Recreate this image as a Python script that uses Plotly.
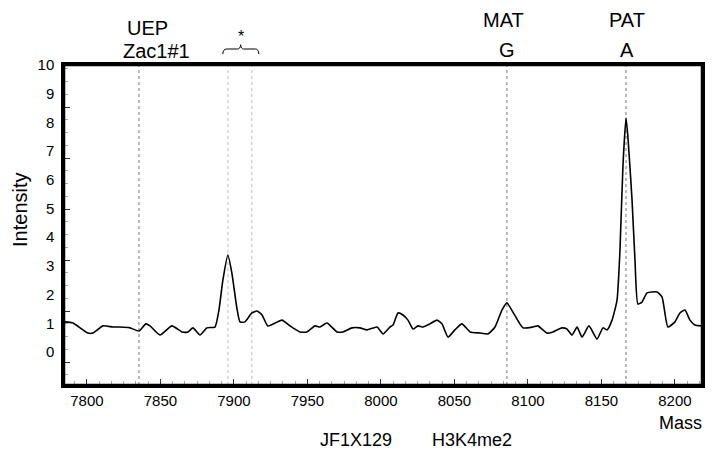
import plotly.graph_objects as go

# ---- data ----
mass = [7785.0, 7790.5, 7800.7, 7804.1, 7810.9, 7817.7, 7822.4, 7829.3, 7835.4, 7840.1,
        7842.9, 7849.7, 7857.8, 7864.6, 7868.7, 7872.1, 7876.9, 7881.6, 7887.1, 7889.8,
        7892.5, 7895.9, 7898.6, 7902.0, 7904.1, 7907.5, 7912.2, 7915.7, 7919.1, 7923.1,
        7932.7, 7938.1, 7944.9, 7949.7, 7955.1, 7958.5, 7963.3, 7970.1, 7974.2, 7980.3,
        7985.7, 7990.5, 7997.3, 8001.4, 8006.1, 8008.2, 8011.6, 8015.0, 8018.4, 8021.8,
        8025.2, 8028.6, 8033.3, 8038.1, 8041.5, 8045.6, 8050.3, 8055.1, 8060.6, 8067.4,
        8072.8, 8077.6, 8082.3, 8085.7, 8089.8, 8096.6, 8103.4, 8106.8, 8112.9, 8117.0,
        8123.1, 8126.5, 8130.0, 8133.4, 8136.8, 8141.5, 8147.0, 8151.0, 8153.8, 8157.2,
        8160.6, 8162.6, 8164.6, 8166.7, 8168.0, 8170.8, 8172.8, 8174.8, 8177.6, 8181.0,
        8187.8, 8191.2, 8195.2, 8200.0, 8203.4, 8206.8, 8210.2, 8213.6, 8217.7]
intensity = [1.05, 1.01, 0.66, 0.66, 0.91, 0.87, 0.87, 0.84, 0.73, 0.98,
             0.91, 0.59, 0.91, 0.70, 0.70, 0.84, 0.59, 0.84, 0.87, 1.46,
             2.51, 3.38, 2.75, 1.53, 1.05, 1.05, 1.36, 1.43, 1.29, 0.91,
             1.11, 0.91, 0.70, 0.70, 0.91, 0.87, 1.01, 0.70, 0.70, 0.84,
             0.84, 0.77, 0.87, 0.63, 0.87, 0.94, 1.36, 1.29, 1.11, 0.80,
             0.91, 0.87, 0.98, 1.11, 0.98, 0.52, 0.77, 0.98, 0.70, 0.66,
             0.63, 0.87, 1.46, 1.71, 1.39, 0.84, 0.87, 0.91, 0.66, 0.70,
             0.84, 0.80, 0.59, 0.87, 0.52, 0.91, 0.45, 0.84, 0.77, 1.11,
             1.81, 3.55, 6.45, 8.15, 7.49, 5.30, 3.21, 1.67, 1.74, 2.06,
             2.09, 1.92, 0.87, 1.05, 1.36, 1.46, 1.11, 0.94, 0.91]

marker_mass = [7835.4, 8085.7, 8166.7]      # UEP, MAT, PAT
star_mass = [7895.9, 7912.2]                # asterisk peaks
x_tick_vals = [7800, 7850, 7900, 7950, 8000, 8050, 8100, 8150, 8200]
y_tick_vals = [0, 1, 2, 3, 4, 5, 6, 7, 8, 9, 10]
y_tick_text = [str(v) for v in y_tick_vals]

FONT = "Liberation Sans, Arial, sans-serif"

fig = go.Figure()
fig.add_trace(go.Scatter(x=mass, y=intensity, mode="lines",
                         line=dict(color="black", width=1.6, shape="spline", smoothing=0.5),
                         hoverinfo="skip", showlegend=False))
# dummy trace to make the tick-mark overlay axis render
fig.add_trace(go.Scatter(x=[mass[0]], y=[intensity[0]], yaxis="y2", mode="markers",
                         marker=dict(opacity=0), hoverinfo="skip", showlegend=False))

for m in marker_mass:
    fig.add_shape(type="line", xref="x", yref="paper", x0=m, x1=m, y0=0, y1=1,
                  line=dict(color="#777", width=1, dash="dot"), layer="below")
for m in star_mass:
    fig.add_shape(type="line", xref="x", yref="paper", x0=m, x1=m, y0=0, y1=1,
                  line=dict(color="#bbb", width=1, dash="dot"), layer="below")

# frame
fig.add_shape(type="rect", xref="paper", yref="paper", x0=0, x1=1, y0=0, y1=1,
              line=dict(color="black", width=2.5), layer="above")

# brace over the asterisk peaks
b0, b1 = star_mass[0] - 3.5, star_mass[1] + 4.8
bm = (star_mass[0] + star_mass[1]) / 2 + 0.5
path = (f"M {b0},1.034 Q {b0+0.3},1.05 {b0+2.5},1.05 L {bm-2},1.05 "
        f"Q {bm-0.3},1.05 {bm},1.063 Q {bm+0.3},1.05 {bm+2},1.05 "
        f"L {b1-2.5},1.05 Q {b1-0.3},1.05 {b1},1.034")
fig.add_shape(type="path", xref="x", yref="paper", path=path,
              line=dict(color="black", width=1))

ann = [
    dict(text="UEP", x=7841.5, y=1.116, size=20),
    dict(text="Zac1#1", x=7847.6, y=1.044, size=20),
    dict(text="*", x=bm, y=1.09, size=16),
    dict(text="MAT", x=8083.7, y=1.14, size=20),
    dict(text="G", x=8085.7, y=1.047, size=20),
    dict(text="PAT", x=8167.3, y=1.14, size=20),
    dict(text="A", x=8167.3, y=1.047, size=20),
]
for a in ann:
    fig.add_annotation(text=a["text"], x=a["x"], y=a["y"], xref="x", yref="paper",
                       showarrow=False, xanchor="center", yanchor="middle",
                       font=dict(family=FONT, size=a["size"], color="black"))

fig.add_annotation(text="Intensity", x=-0.069, y=0.547, xref="paper", yref="paper",
                   showarrow=False, textangle=-90, xanchor="center", yanchor="middle",
                   font=dict(family=FONT, size=20, color="black"))
fig.add_annotation(text="Mass", x=0.967, y=-0.119, xref="paper", yref="paper",
                   showarrow=False, xanchor="center", yanchor="middle",
                   font=dict(family=FONT, size=18, color="black"))
fig.add_annotation(text="JF1X129", x=0.458, y=-0.172, xref="paper", yref="paper",
                   showarrow=False, xanchor="center", yanchor="middle",
                   font=dict(family=FONT, size=18, color="black"))
fig.add_annotation(text="H3K4me2", x=0.640, y=-0.172, xref="paper", yref="paper",
                   showarrow=False, xanchor="center", yanchor="middle",
                   font=dict(family=FONT, size=18, color="black"))

# page body has an 8px margin: figure is shrunk so the plot lands where the reference has it
fig.update_layout(
    width=708, height=447, autosize=False,
    margin=dict(l=56, r=14, t=57, b=70),
    paper_bgcolor="white", plot_bgcolor="white",
    font=dict(family=FONT, color="black"),
    showlegend=False,
    xaxis=dict(range=[7784.4, 8218.4], tickvals=x_tick_vals,
               ticks="inside", ticklen=6, tickwidth=1, tickcolor="#333",
               minor=dict(tick0=7800, dtick=50 / 6, ticks="inside", ticklen=4,
                          tickwidth=1, tickcolor="#aaa"),
               showline=True, linewidth=2.5, linecolor="black", mirror=True,
               showgrid=False, zeroline=False,
               tickfont=dict(family=FONT, size=15, color="black")),
    yaxis=dict(range=[-1.15, 10.0], tickvals=y_tick_vals, ticktext=y_tick_text,
               ticks="", showline=True, linewidth=2.5, linecolor="black", mirror=True,
               showgrid=False, zeroline=False, ticklabelstandoff=4,
               tickfont=dict(family=FONT, size=15, color="black")),
    yaxis2=dict(range=[-1.15, 10.0], overlaying="y", anchor="x", side="left",
                tick0=-0.35, dtick=1.776, ticks="inside", ticklen=6, tickwidth=1,
                tickcolor="#333", showticklabels=False, showline=False,
                showgrid=False, zeroline=False,
                minor=dict(tick0=-0.35, dtick=0.444, ticks="inside", ticklen=4,
                           tickwidth=1, tickcolor="#aaa")),
)

fig.write_html("out.html")
